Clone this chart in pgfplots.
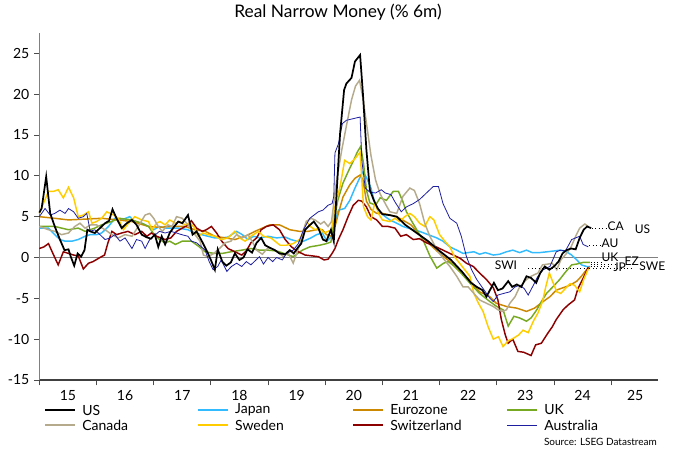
\documentclass[border=0pt]{standalone}
\usepackage{pgfplots}
\pgfplotsset{compat=1.18}
\usepackage{fontspec}
\setmainfont{Lato}
\definecolor{cUS}{RGB}{0,0,0}
\definecolor{cJP}{RGB}{51,187,255}
\definecolor{cEZ}{RGB}{204,136,0}
\definecolor{cUK}{RGB}{119,170,34}
\definecolor{cCA}{RGB}{181,171,140}
\definecolor{cSE}{RGB}{255,204,0}
\definecolor{cCH}{RGB}{140,0,0}
\definecolor{cAU}{RGB}{30,30,160}
\begin{document}
\begin{tikzpicture}
\path[use as bounding box] (-29.5bp,-54.75bp) rectangle (480.5bp,285bp);
\begin{axis}[
  at={(0,0)}, anchor=south west,
  scale only axis, width=464bp, height=260bp,
  xmin=2015, xmax=2025.82, ymin=-15, ymax=27.45,
  axis x line*=bottom, axis y line*=left,
  x axis line style={draw=black!75, line width=0.8bp, -},
  y axis line style={draw=gray, line width=1bp, -},
  xtick={2015,2016,...,2025}, xticklabels={},
  extra x ticks={2015.5,2016.5,2017.5,2018.5,2019.5,2020.5,2021.5,2022.5,2023.5,2024.5,2025.42},
  extra x tick labels={15,16,17,18,19,20,21,22,23,24,25},
  extra x tick style={tick style={draw=none}},
  ytick={-15,-10,-5,0,5,10,15,20,25},
  yticklabels={-15,-10,-5,0,5,10,15,20,25},
  tick align=outside, major tick length=4bp,
  tick style={draw=black!70, line width=0.6bp},
  ticklabel style={font=\fontsize{10.5bp}{12bp}\selectfont},
  clip=false,
]
\addplot[gray, line width=1.3bp] coordinates {(2015,0) (2025.82,0)};
% Japan
\addplot[cJP, line width=1.1bp] coordinates {
(2015.0,3.6)(2015.16,3.6)(2015.27,2.8)(2015.36,2.2)(2015.45,2.0)(2015.57,2.0)(2015.68,2.2)(2015.8,2.6)(2015.89,2.8)(2016.0,2.8)(2016.09,3.0)(2016.21,3.8)(2016.32,4.8)(2016.44,4.6)(2016.58,5.0)(2016.67,4.4)(2016.79,4.2)(2016.91,3.8)(2017.0,3.4)(2017.1,3.8)(2017.2,3.6)(2017.43,3.6)(2017.6,3.4)(2017.72,3.0)(2017.84,2.8)(2017.95,2.6)(2018.07,2.4)(2018.19,2.4)(2018.3,2.5)(2018.45,3.2)(2018.55,2.8)(2018.65,2.2)(2018.75,2.6)(2018.86,2.4)(2019.0,2.6)(2019.15,2.4)(2019.3,2.5)(2019.4,2.2)(2019.5,2.0)(2019.62,2.0)(2019.75,2.4)(2019.85,2.8)(2019.95,3.0)(2020.03,2.0)(2020.1,2.5)(2020.16,4.0)(2020.23,5.8)(2020.34,6.0)(2020.43,7.0)(2020.52,8.5)(2020.6,9.7)(2020.66,10.5)(2020.72,9.8)(2020.8,8.5)(2020.87,6.6)(2020.95,5.6)(2021.05,5.0)(2021.13,4.6)(2021.25,4.2)(2021.36,3.8)(2021.54,3.4)(2021.65,3.2)(2021.8,2.8)(2021.95,2.4)(2022.06,2.0)(2022.18,1.3)(2022.3,0.9)(2022.41,0.5)(2022.5,0.6)(2022.6,0.7)(2022.7,0.4)(2022.8,0.6)(2022.94,0.3)(2023.05,0.4)(2023.17,0.7)(2023.28,0.9)(2023.4,0.6)(2023.52,0.9)(2023.62,0.6)(2023.75,0.6)(2023.88,0.7)(2024.0,0.8)(2024.1,0.9)(2024.2,0.8)(2024.31,0.3)(2024.4,-0.3)(2024.48,-0.9)(2024.57,-1.1)(2024.63,-1.1)};
% Eurozone
\addplot[cEZ, line width=1.1bp] coordinates {
(2015.0,5.0)(2015.27,4.8)(2015.51,4.6)(2015.8,4.7)(2016.09,4.8)(2016.38,4.6)(2016.62,4.4)(2016.91,3.8)(2017.1,3.7)(2017.3,3.8)(2017.55,3.8)(2017.72,3.4)(2017.9,3.2)(2018.07,2.6)(2018.25,2.4)(2018.42,2.2)(2018.6,2.6)(2018.77,3.2)(2018.9,3.6)(2019.03,4.0)(2019.2,4.0)(2019.38,3.4)(2019.55,3.2)(2019.7,3.2)(2019.85,3.4)(2019.95,3.4)(2020.02,2.8)(2020.11,2.6)(2020.15,3.2)(2020.23,5.4)(2020.31,7.4)(2020.43,8.9)(2020.52,9.7)(2020.61,10.1)(2020.66,9.5)(2020.72,6.9)(2020.8,5.9)(2020.9,5.4)(2021.0,5.4)(2021.13,5.2)(2021.25,5.0)(2021.4,4.4)(2021.5,4.0)(2021.65,2.8)(2021.83,1.6)(2022.0,0.5)(2022.18,-0.5)(2022.35,-1.7)(2022.5,-2.6)(2022.7,-4.2)(2022.88,-4.8)(2022.99,-5.6)(2023.17,-6.0)(2023.35,-6.2)(2023.52,-6.6)(2023.66,-6.2)(2023.81,-5.4)(2023.93,-4.8)(2024.04,-4.0)(2024.16,-3.7)(2024.28,-3.4)(2024.4,-2.9)(2024.48,-2.3)(2024.57,-1.5)(2024.63,-1.1)};
% UK
\addplot[cUK, line width=1.1bp] coordinates {
(2015.0,3.8)(2015.27,3.8)(2015.51,3.4)(2015.68,3.6)(2015.8,3.2)(2015.97,3.6)(2016.09,4.0)(2016.26,4.4)(2016.4,4.8)(2016.62,4.6)(2016.79,4.2)(2016.91,3.8)(2017.0,2.9)(2017.1,2.2)(2017.2,1.8)(2017.28,2.0)(2017.38,1.6)(2017.5,2.0)(2017.66,2.0)(2017.78,1.4)(2017.9,0.7)(2018.05,0.5)(2018.2,0.5)(2018.35,0.7)(2018.54,0.9)(2018.7,1.1)(2018.85,0.9)(2019.0,0.9)(2019.15,0.8)(2019.32,0.4)(2019.44,0.1)(2019.6,0.9)(2019.73,1.3)(2019.9,1.5)(2020.02,1.7)(2020.1,1.9)(2020.14,4.0)(2020.22,7.0)(2020.31,9.1)(2020.4,10.5)(2020.49,11.8)(2020.56,12.9)(2020.62,13.6)(2020.67,11.5)(2020.72,8.3)(2020.78,6.7)(2020.88,6.4)(2020.96,7.3)(2021.07,7.0)(2021.19,8.1)(2021.28,8.1)(2021.35,7.0)(2021.42,5.6)(2021.5,4.6)(2021.6,3.4)(2021.72,2.0)(2021.83,0.2)(2021.95,-1.3)(2022.07,-0.7)(2022.15,-0.5)(2022.25,-1.0)(2022.35,-1.7)(2022.45,-2.5)(2022.55,-3.3)(2022.7,-4.4)(2022.88,-5.4)(2023.0,-6.0)(2023.11,-6.4)(2023.2,-8.4)(2023.3,-7.2)(2023.4,-7.4)(2023.52,-7.8)(2023.6,-7.4)(2023.7,-6.4)(2023.78,-5.4)(2023.87,-4.4)(2023.98,-3.6)(2024.1,-2.7)(2024.2,-1.8)(2024.31,-0.9)(2024.4,-0.8)(2024.51,-0.6)(2024.63,-0.6)};
% Switzerland
\addplot[cCH, line width=1.1bp] coordinates {
(2015.0,1.1)(2015.08,1.3)(2015.16,1.7)(2015.25,0.3)(2015.33,-0.9)(2015.42,0.7)(2015.51,0.5)(2015.6,0.3)(2015.68,0.2)(2015.77,-1.4)(2015.86,-0.7)(2015.94,-0.5)(2016.06,0.0)(2016.14,0.3)(2016.2,1.8)(2016.27,3.2)(2016.35,2.8)(2016.44,3.0)(2016.55,3.2)(2016.67,2.8)(2016.79,3.2)(2016.88,2.6)(2016.96,3.0)(2017.05,2.6)(2017.2,2.2)(2017.3,2.4)(2017.4,3.2)(2017.5,3.6)(2017.58,3.9)(2017.66,4.5)(2017.75,3.6)(2017.85,3.2)(2017.92,3.4)(2018.01,3.8)(2018.1,3.0)(2018.19,2.0)(2018.3,1.1)(2018.42,0.7)(2018.54,0.3)(2018.62,0.8)(2018.7,1.8)(2018.8,2.4)(2018.88,3.4)(2018.97,3.8)(2019.09,4.0)(2019.2,3.4)(2019.3,2.2)(2019.41,1.3)(2019.53,0.7)(2019.65,0.3)(2019.77,0.2)(2019.88,0.1)(2019.98,-0.3)(2020.05,-0.2)(2020.12,0.5)(2020.17,1.1)(2020.23,2.2)(2020.31,3.4)(2020.4,5.0)(2020.49,6.4)(2020.58,7.0)(2020.64,6.9)(2020.72,6.2)(2020.8,5.0)(2020.9,4.6)(2021.0,3.8)(2021.1,3.8)(2021.22,3.6)(2021.32,2.6)(2021.42,2.8)(2021.54,2.2)(2021.65,2.3)(2021.77,1.8)(2021.88,1.5)(2022.0,1.1)(2022.12,0.7)(2022.24,0.3)(2022.36,-0.1)(2022.47,-0.7)(2022.59,-1.1)(2022.7,-1.9)(2022.82,-2.7)(2022.94,-3.7)(2023.02,-5.2)(2023.08,-7.6)(2023.15,-9.5)(2023.2,-10.5)(2023.28,-10.0)(2023.37,-11.5)(2023.47,-11.6)(2023.6,-12.0)(2023.68,-10.7)(2023.78,-10.5)(2023.89,-9.3)(2023.97,-8.5)(2024.04,-7.6)(2024.16,-6.4)(2024.25,-5.8)(2024.36,-5.2)(2024.42,-3.8)(2024.5,-2.7)(2024.6,-1.2)};
% Sweden
\addplot[cSE, line width=1.1bp] coordinates {
(2015.0,5.4)(2015.07,6.6)(2015.16,8.1)(2015.25,8.1)(2015.33,8.3)(2015.42,7.3)(2015.51,8.6)(2015.6,7.3)(2015.68,5.0)(2015.77,5.2)(2015.86,5.6)(2015.92,4.2)(2016.0,4.4)(2016.09,4.8)(2016.18,5.6)(2016.3,5.2)(2016.38,4.8)(2016.47,3.4)(2016.56,4.2)(2016.67,5.0)(2016.79,4.6)(2016.91,4.4)(2016.97,3.4)(2017.05,4.2)(2017.11,4.4)(2017.2,4.0)(2017.28,4.6)(2017.38,4.2)(2017.45,4.4)(2017.55,4.0)(2017.64,4.2)(2017.72,3.6)(2017.78,2.6)(2017.86,3.0)(2017.95,2.8)(2018.07,2.6)(2018.19,2.2)(2018.3,2.4)(2018.42,3.2)(2018.5,2.4)(2018.6,2.0)(2018.7,2.6)(2018.83,3.2)(2018.92,2.6)(2019.05,2.4)(2019.21,1.5)(2019.32,1.5)(2019.44,1.7)(2019.55,2.2)(2019.62,3.2)(2019.67,4.4)(2019.74,3.8)(2019.82,3.4)(2019.9,3.6)(2019.98,3.0)(2020.05,3.2)(2020.11,3.4)(2020.17,6.2)(2020.26,8.7)(2020.34,11.9)(2020.43,11.5)(2020.52,12.1)(2020.61,12.9)(2020.64,9.5)(2020.67,6.2)(2020.74,5.0)(2020.8,4.6)(2020.87,6.8)(2020.93,5.4)(2021.0,4.6)(2021.13,4.4)(2021.22,4.8)(2021.3,4.4)(2021.39,5.0)(2021.48,5.4)(2021.56,5.0)(2021.65,4.2)(2021.74,3.8)(2021.83,5.0)(2021.9,4.6)(2022.0,2.8)(2022.09,2.0)(2022.18,1.3)(2022.26,0.1)(2022.35,-0.7)(2022.44,-1.5)(2022.53,-2.3)(2022.6,-4.4)(2022.68,-5.6)(2022.76,-6.6)(2022.85,-8.5)(2022.94,-10.0)(2023.03,-9.7)(2023.11,-10.9)(2023.2,-10.2)(2023.29,-9.9)(2023.38,-9.5)(2023.46,-8.9)(2023.55,-9.2)(2023.64,-7.8)(2023.72,-6.8)(2023.8,-5.4)(2023.86,-3.5)(2023.92,-1.9)(2023.98,-3.0)(2024.05,-4.2)(2024.12,-4.4)(2024.2,-3.8)(2024.28,-3.2)(2024.36,-3.4)(2024.45,-4.2)(2024.52,-2.7)(2024.6,-1.4)};
% Canada
\addplot[cCA, line width=1.1bp] coordinates {
(2015.0,3.8)(2015.16,3.4)(2015.27,3.2)(2015.39,2.8)(2015.51,3.0)(2015.62,3.8)(2015.71,4.2)(2015.8,3.6)(2015.9,4.0)(2016.0,4.0)(2016.15,3.4)(2016.27,2.8)(2016.38,2.4)(2016.5,2.8)(2016.62,2.6)(2016.73,3.8)(2016.85,5.2)(2016.93,5.4)(2017.0,4.8)(2017.08,3.8)(2017.15,3.2)(2017.25,4.0)(2017.32,3.8)(2017.4,5.0)(2017.5,4.8)(2017.6,4.0)(2017.7,3.0)(2017.81,2.0)(2017.87,0.3)(2017.95,0.1)(2018.05,0.5)(2018.15,1.1)(2018.25,1.8)(2018.35,2.0)(2018.45,2.8)(2018.55,2.4)(2018.65,2.8)(2018.72,2.0)(2018.8,0.9)(2018.9,0.4)(2019.0,1.2)(2019.1,1.0)(2019.2,0.5)(2019.27,0.1)(2019.35,0.6)(2019.44,-0.7)(2019.5,0.5)(2019.56,1.7)(2019.62,3.4)(2019.67,4.4)(2019.75,4.8)(2019.82,4.6)(2019.92,4.1)(2019.98,4.4)(2020.05,3.8)(2020.11,4.4)(2020.2,9.5)(2020.29,13.2)(2020.37,16.1)(2020.46,19.3)(2020.53,21.0)(2020.6,21.7)(2020.66,19.5)(2020.72,16.5)(2020.8,12.5)(2020.88,9.5)(2020.96,7.8)(2021.05,6.6)(2021.13,5.6)(2021.25,5.4)(2021.36,7.5)(2021.48,8.5)(2021.56,8.2)(2021.65,6.6)(2021.74,4.2)(2021.83,2.6)(2021.95,1.0)(2022.05,0.0)(2022.18,-1.1)(2022.3,-2.3)(2022.41,-3.6)(2022.5,-3.6)(2022.6,-4.4)(2022.7,-5.2)(2022.82,-5.6)(2022.94,-6.0)(2023.02,-6.4)(2023.1,-6.6)(2023.17,-6.4)(2023.23,-5.6)(2023.32,-4.8)(2023.4,-3.6)(2023.52,-2.7)(2023.6,-2.3)(2023.72,-1.9)(2023.8,-0.9)(2023.9,-0.8)(2023.97,-0.7)(2024.05,-1.5)(2024.12,-0.3)(2024.22,0.5)(2024.3,1.3)(2024.38,2.6)(2024.45,3.6)(2024.54,4.1)(2024.6,3.8)};
% Australia
\addplot[cAU, line width=0.6bp] coordinates {
(2015.0,5.0)(2015.1,6.0)(2015.19,5.2)(2015.27,5.4)(2015.36,5.8)(2015.45,5.4)(2015.51,6.0)(2015.6,5.6)(2015.68,4.8)(2015.77,5.0)(2015.83,5.4)(2015.89,3.2)(2015.97,3.4)(2016.06,2.8)(2016.15,2.2)(2016.24,2.4)(2016.32,2.8)(2016.41,2.0)(2016.5,2.4)(2016.62,1.1)(2016.7,2.2)(2016.79,2.0)(2016.85,1.1)(2016.93,2.2)(2017.0,2.6)(2017.1,3.2)(2017.2,3.0)(2017.3,3.2)(2017.4,3.0)(2017.49,2.8)(2017.6,2.6)(2017.66,2.0)(2017.75,1.8)(2017.9,0.9)(2017.97,-0.5)(2018.04,-1.5)(2018.12,-1.1)(2018.18,-0.3)(2018.28,-1.7)(2018.36,-1.1)(2018.45,-0.7)(2018.54,-1.1)(2018.62,-0.5)(2018.7,-0.9)(2018.85,0.1)(2018.92,-0.8)(2019.0,0.0)(2019.08,-0.5)(2019.15,0.0)(2019.25,-0.3)(2019.32,0.5)(2019.44,0.9)(2019.53,1.7)(2019.62,3.4)(2019.73,4.8)(2019.88,5.6)(2019.96,5.8)(2020.05,6.4)(2020.12,6.6)(2020.15,7.5)(2020.17,12.8)(2020.23,13.9)(2020.3,16.4)(2020.37,16.8)(2020.49,17.0)(2020.61,17.2)(2020.64,11.9)(2020.7,8.5)(2020.78,8.0)(2020.88,7.9)(2020.98,8.3)(2021.05,7.9)(2021.15,7.7)(2021.22,6.8)(2021.33,5.6)(2021.42,6.2)(2021.54,6.6)(2021.65,7.1)(2021.77,7.9)(2021.89,8.7)(2021.98,8.7)(2022.06,6.6)(2022.18,4.8)(2022.3,4.2)(2022.38,2.6)(2022.47,0.1)(2022.56,-1.5)(2022.65,-2.7)(2022.76,-3.8)(2022.88,-5.0)(2022.94,-5.4)(2023.02,-4.6)(2023.12,-4.4)(2023.23,-4.2)(2023.32,-3.6)(2023.4,-3.4)(2023.48,-3.8)(2023.55,-4.6)(2023.64,-3.4)(2023.72,-2.3)(2023.81,-1.5)(2023.93,-1.1)(2024.04,0.7)(2024.12,0.9)(2024.2,0.8)(2024.31,2.2)(2024.38,2.4)(2024.45,2.6)(2024.51,1.6)(2024.6,1.3)};
% US
\addplot[cUS, line width=1.3bp] coordinates {
(2015.0,5.5)(2015.04,6.0)(2015.12,9.9)(2015.19,5.4)(2015.27,3.8)(2015.36,2.2)(2015.44,0.9)(2015.51,1.0)(2015.55,0.1)(2015.61,-1.0)(2015.67,0.5)(2015.73,0.1)(2015.79,0.9)(2015.84,3.4)(2015.89,3.2)(2015.97,3.0)(2016.06,3.6)(2016.15,4.2)(2016.22,4.5)(2016.28,5.9)(2016.35,4.8)(2016.44,3.6)(2016.53,4.2)(2016.62,4.6)(2016.7,4.0)(2016.79,2.8)(2016.87,2.5)(2016.95,2.3)(2017.02,2.8)(2017.08,1.3)(2017.14,2.6)(2017.2,1.6)(2017.28,3.0)(2017.36,3.8)(2017.43,4.4)(2017.5,4.2)(2017.6,5.2)(2017.68,2.8)(2017.75,3.2)(2017.85,1.9)(2017.95,0.5)(2018.0,-0.3)(2018.07,-1.5)(2018.12,1.0)(2018.2,-0.5)(2018.27,-1.0)(2018.35,-0.6)(2018.42,0.5)(2018.5,-0.3)(2018.57,0.0)(2018.64,1.0)(2018.72,0.6)(2018.8,1.8)(2018.88,2.4)(2018.95,1.5)(2019.03,1.2)(2019.12,0.9)(2019.2,0.5)(2019.3,0.4)(2019.38,0.9)(2019.45,0.5)(2019.52,1.2)(2019.58,1.7)(2019.65,3.4)(2019.72,3.9)(2019.8,4.4)(2019.88,3.6)(2019.96,2.2)(2020.02,2.0)(2020.1,3.4)(2020.15,2.0)(2020.2,8.0)(2020.26,15.2)(2020.33,20.5)(2020.37,21.3)(2020.46,22.0)(2020.52,24.0)(2020.61,24.8)(2020.66,20.0)(2020.72,13.2)(2020.78,8.3)(2020.85,7.0)(2020.92,6.0)(2021.0,5.3)(2021.12,5.2)(2021.25,5.0)(2021.4,4.0)(2021.6,3.0)(2021.8,2.0)(2022.0,0.8)(2022.2,-0.3)(2022.4,-1.8)(2022.55,-3.1)(2022.65,-3.6)(2022.75,-4.0)(2022.82,-4.8)(2022.88,-4.0)(2022.95,-3.1)(2023.02,-4.0)(2023.1,-3.8)(2023.2,-2.9)(2023.27,-3.6)(2023.35,-3.3)(2023.43,-3.6)(2023.52,-2.3)(2023.6,-2.5)(2023.69,-3.1)(2023.76,-1.9)(2023.84,-1.1)(2023.92,-1.5)(2024.0,-1.1)(2024.08,-0.5)(2024.15,0.5)(2024.22,0.9)(2024.3,1.1)(2024.38,1.0)(2024.45,2.4)(2024.52,3.4)(2024.58,3.8)(2024.65,3.6)};
% leader lines and end labels
\draw[dotted, line width=0.6bp] (axis cs:2024.66,3.6) -- (axis cs:2024.95,3.6);
\draw[dotted, line width=0.6bp] (axis cs:2024.62,1.5) -- (axis cs:2024.85,1.5);
\draw[dotted, line width=0.6bp] (axis cs:2024.64,-0.6) -- (axis cs:2024.85,-0.6);
\draw[dotted, line width=0.6bp] (axis cs:2024.64,-0.9) -- (axis cs:2025.1,-0.9);
\draw[dotted, line width=0.6bp] (axis cs:2024.64,-1.1) -- (axis cs:2025.0,-1.1);
\draw[dotted, line width=0.6bp] (axis cs:2024.62,-1.3) -- (axis cs:2025.4,-1.3);
\draw[dotted, line width=0.6bp] (axis cs:2023.55,-1.3) -- (axis cs:2024.6,-1.3);
\begin{scope}[every node/.style={font=\fontsize{9bp}{10bp}\selectfont, inner sep=0pt}]
\node at (axis cs:2025.08,3.8) {CA};
\node at (axis cs:2025.55,3.5) {US};
\node at (axis cs:2024.98,1.7) {AU};
\node at (axis cs:2024.98,0.0) {UK};
\node at (axis cs:2025.15,-1.25) {JP};
\node at (axis cs:2025.36,-0.5) {EZ};
\node at (axis cs:2025.72,-1.1) {SWE};
\node at (axis cs:2023.16,-1.0) {SWI};
\end{scope}
\end{axis}
\node[font=\fontsize{13bp}{15bp}\selectfont, inner sep=0pt] at (224bp,276bp) {Real Narrow Money (\% 6m)};
\begin{scope}[every node/.style={font=\fontsize{10.5bp}{12bp}\selectfont, inner sep=0pt, anchor=west}]
\draw[cUS, line width=1.4bp] (4.3bp,-22.5bp) -- ++(22.5bp,0);
\node at (32bp,-22.5bp) {US};
\draw[cJP, line width=1.1bp] (119bp,-22.5bp) -- ++(22.5bp,0);
\node at (146.7bp,-22.5bp) {Japan};
\draw[cEZ, line width=1.1bp] (235.3bp,-22.5bp) -- ++(22.5bp,0);
\node at (263bp,-22.5bp) {Eurozone};
\draw[cUK, line width=1.1bp] (350.8bp,-22.5bp) -- ++(22.5bp,0);
\node at (378.5bp,-22.5bp) {UK};
\draw[cCA, line width=1.1bp] (4.3bp,-33.75bp) -- ++(22.5bp,0);
\node at (32bp,-33.75bp) {Canada};
\draw[cSE, line width=1.1bp] (119bp,-33.75bp) -- ++(22.5bp,0);
\node at (146.7bp,-33.75bp) {Sweden};
\draw[cCH, line width=1.1bp] (235.3bp,-33.75bp) -- ++(22.5bp,0);
\node at (263bp,-33.75bp) {Switzerland};
\draw[cAU, line width=0.6bp] (350.8bp,-33.75bp) -- ++(22.5bp,0);
\node at (378.5bp,-33.75bp) {Australia};
\end{scope}
\node[font=\fontsize{7.5bp}{9bp}\selectfont, inner sep=0pt, anchor=east] at (463.3bp,-46.5bp) {Source: LSEG Datastream};
\end{tikzpicture}
\end{document}
